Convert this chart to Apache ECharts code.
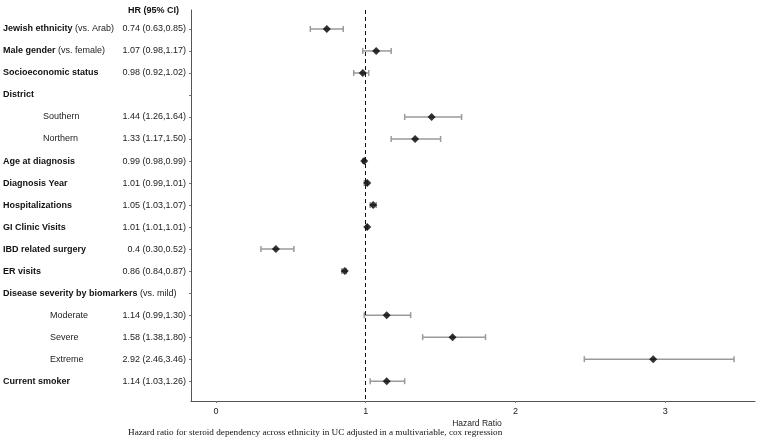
<!DOCTYPE html>
<html>
<head>
<meta charset="utf-8">
<script src="https://cdn.jsdelivr.net/npm/echarts@6/dist/echarts.min.js"></script>
<style>
  html, body { margin: 0; padding: 0; background: #fff; }
  #forest { width: 760px; height: 439px; }
</style>
</head>
<body>
<div id="forest"></div>
<script>
// 行名称（粗体部分）
const rowNames = ['Jewish ethnicity', 'Male gender', 'Socioeconomic status', 'District', 'Southern', 'Northern',
  'Age at diagnosis', 'Diagnosis Year', 'Hospitalizations', 'GI Clinic Visits', 'IBD related surgery', 'ER visits',
  'Disease severity by biomarkers', 'Moderate', 'Severe', 'Extreme', 'Current smoker'];
// 参照组说明（普通字体）
const rowNotes = ['(vs. Arab)', '(vs. female)', '', '', '', '', '', '', '', '', '', '', '(vs. mild)', '', '', '', ''];
// 缩进级别 0 = 主变量, 1/2 = 子类别
const rowIndent = [0, 0, 0, 0, 1, 1, 0, 0, 0, 0, 0, 0, 0, 2, 2, 2, 0];
// HR 文本列
const hrText = ['0.74 (0.63,0.85)', '1.07 (0.98,1.17)', '0.98 (0.92,1.02)', '', '1.44 (1.26,1.64)', '1.33 (1.17,1.50)',
  '0.99 (0.98,0.99)', '1.01 (0.99,1.01)', '1.05 (1.03,1.07)', '1.01 (1.01,1.01)', '0.4 (0.30,0.52)', '0.86 (0.84,0.87)',
  '', '1.14 (0.99,1.30)', '1.58 (1.38,1.80)', '2.92 (2.46,3.46)', '1.14 (1.03,1.26)'];
// 点估计和置信区间
const hrValues = [0.74, 1.07, 0.98, null, 1.44, 1.33, 0.99, 1.01, 1.05, 1.01, 0.4, 0.86, null, 1.14, 1.58, 2.92, 1.14];
const ciLow = [0.63, 0.98, 0.92, null, 1.26, 1.17, 0.98, 0.99, 1.03, 1.01, 0.30, 0.84, null, 0.99, 1.38, 2.46, 1.03];
const ciHigh = [0.85, 1.17, 1.02, null, 1.64, 1.50, 0.99, 1.01, 1.07, 1.01, 0.52, 0.87, null, 1.30, 1.80, 3.46, 1.26];
// x 轴刻度
const xTicks = [0, 1, 2, 3];

const rowIdx = rowNames.map((_, i) => i);
const pointData = [];
const barData = [];
hrValues.forEach((v, i) => {
  if (v === null) return;
  pointData.push([v, i]);
  barData.push([ciLow[i], ciHigh[i], i]);
});

const myChart = echarts.init(document.getElementById('forest'));

const yBase = {
  type: 'value',
  inverse: true,
  min: -0.86,
  max: 16.9,
  position: 'left',
  splitLine: { show: false },
  axisLine: { show: false },
  axisTick: { show: false },
};

myChart.setOption({
  animation: false,
  textStyle: { fontFamily: 'Liberation Sans, Arial, sans-serif' },
  title: [
    {
      text: 'HR (95% CI)',
      left: 128,
      top: 6,
      padding: 0,
      textStyle: { fontSize: 9, fontWeight: 'bold', color: '#111' },
    },
    {
      text: 'Hazard ratio for steroid dependency across ethnicity in UC adjusted in a multivariable, cox regression',
      left: 128,
      top: 428,
      padding: 0,
      textStyle: { fontSize: 9.2, fontWeight: 'normal', color: '#111', fontFamily: 'Liberation Serif, Times New Roman, serif' },
    },
  ],
  grid: { left: 190, right: 5, top: 10, bottom: 38 },
  xAxis: {
    type: 'value',
    min: -0.167,
    max: 3.6,
    name: 'Hazard Ratio',
    nameLocation: 'middle',
    nameGap: 18,
    nameMoveOverlap: false,
    nameTextStyle: { fontSize: 8.5, color: '#222', padding: [0, 0, 0, 8] },
    splitLine: { show: false },
    axisLine: { onZero: false, lineStyle: { color: '#555', width: 1 } },
    axisTick: { customValues: xTicks, length: 2, lineStyle: { color: '#777' } },
    axisLabel: { customValues: xTicks, fontSize: 9, color: '#222', margin: 6 },
  },
  yAxis: [
    {
      ...yBase,
      axisLine: { show: true, onZero: false, lineStyle: { color: '#555', width: 1 } },
      axisTick: { show: true, customValues: rowIdx, length: 2, lineStyle: { color: '#777' } },
      axisLabel: {
        customValues: rowIdx,
        fontSize: 9,
        color: '#222',
        margin: 5,
        formatter: (v) => hrText[Math.round(v)] || '',
      },
    },
    {
      ...yBase,
      axisLabel: {
        customValues: rowIdx,
        align: 'left',
        margin: 188,
        fontSize: 9,
        color: '#111',
        formatter: (v) => {
          const i = Math.round(v);
          if (rowIndent[i] === 1) return '{ind1|' + rowNames[i] + '}';
          if (rowIndent[i] === 2) return '{ind2|' + rowNames[i] + '}';
          let s = '{b|' + rowNames[i] + '}';
          if (rowNotes[i]) s += '{n| ' + rowNotes[i] + '}';
          return s;
        },
        rich: {
          b: { fontSize: 9, fontWeight: 'bold', color: '#111' },
          n: { fontSize: 9, color: '#222' },
          ind1: { fontSize: 9, color: '#222', padding: [0, 0, 0, 40] },
          ind2: { fontSize: 9, color: '#222', padding: [0, 0, 0, 47] },
        },
      },
    },
  ],
  series: [
    {
      // 置信区间误差线
      type: 'custom',
      xAxisIndex: 0,
      yAxisIndex: 0,
      encode: { x: [0, 1], y: 2 },
      data: barData,
      renderItem: (params, api) => {
        const p1 = api.coord([api.value(0), api.value(2)]);
        const p2 = api.coord([api.value(1), api.value(2)]);
        const cap = 3;
        const style = { stroke: '#9a9a9a', lineWidth: 1.5 };
        return {
          type: 'group',
          children: [
            { type: 'line', shape: { x1: p1[0], y1: p1[1], x2: p2[0], y2: p2[1] }, style },
            { type: 'line', shape: { x1: p1[0], y1: p1[1] - cap, x2: p1[0], y2: p1[1] + cap }, style },
            { type: 'line', shape: { x1: p2[0], y1: p2[1] - cap, x2: p2[0], y2: p2[1] + cap }, style },
          ],
        };
      },
      z: 2,
    },
    {
      type: 'scatter',
      xAxisIndex: 0,
      yAxisIndex: 0,
      symbol: 'diamond',
      symbolSize: 8,
      itemStyle: { color: '#000' },
      data: pointData,
      z: 3,
      markLine: {
        silent: true,
        symbol: 'none',
        label: { show: false },
        lineStyle: { color: '#111', type: [4, 3], width: 1 },
        data: [{ xAxis: 1 }],
      },
    },
  ],
});
</script>
</body>
</html>
